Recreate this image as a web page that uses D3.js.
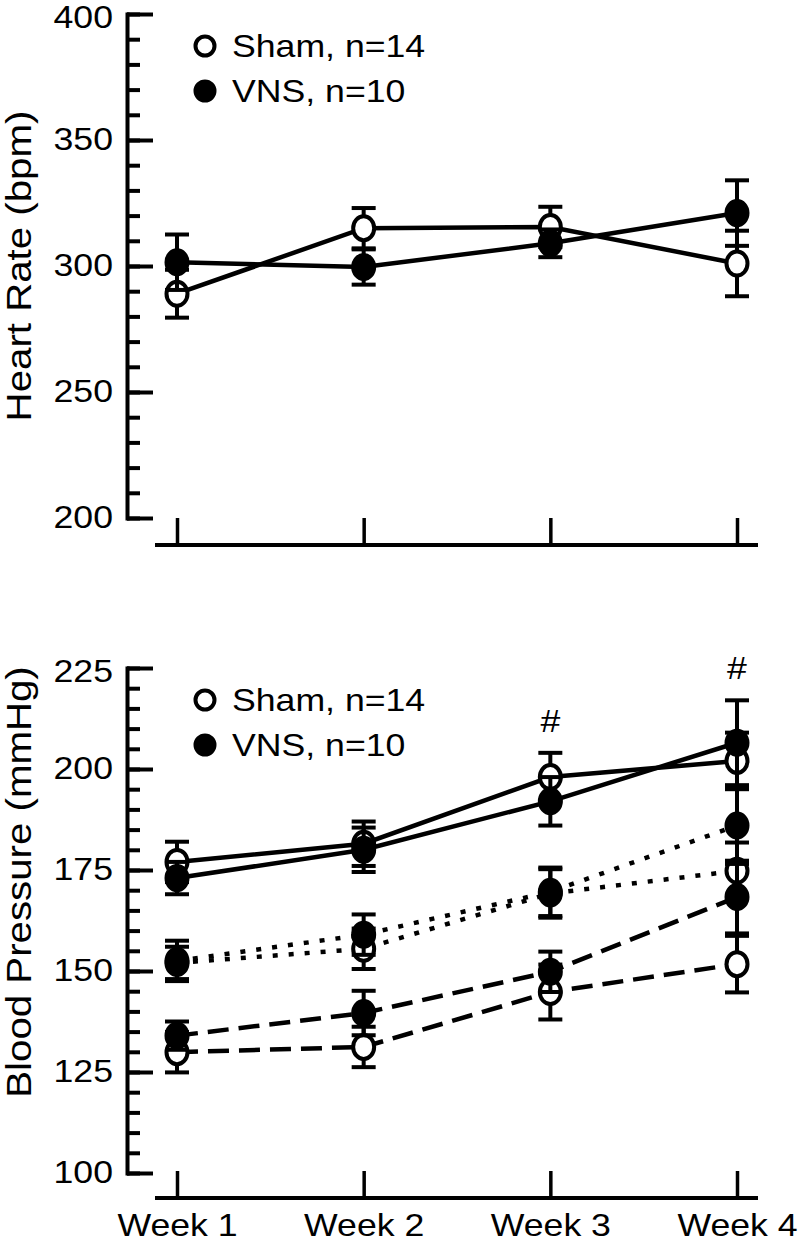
<!DOCTYPE html>
<html>
<head>
<meta charset="utf-8">
<script src="https://cdn.jsdelivr.net/npm/d3@7"></script>
<style>
  body { margin: 0; background: #fff; }
  svg { display: block; }
  text { font-family: "Liberation Sans", Arial, Helvetica, sans-serif; fill: #000; font-size: 31px; }
  .title { font-size: 35px; }
</style>
</head>
<body>
<svg id="chart" width="800" height="1243"></svg>
<script>
const weeks = ["Week 1", "Week 2", "Week 3", "Week 4"];
const groups = ["Sham, n=14", "VNS, n=10"];

// heart rate (bpm), mean and SEM
const hrSham = [289, 315, 315.5, 301];
const hrShamErr = [9.5, 8, 8, 13];
const hrVns = [301.5, 299.6, 309, 321];
const hrVnsErr = [11, 7, 5.5, 13];

// blood pressure (mmHg): systolic, mean, diastolic
const sysSham = [177, 181.5, 198, 202];
const sysShamErr = [5, 5.5, 6, 7];
const sysVns = [173, 180, 192, 206.5];
const sysVnsErr = [4, 5.5, 6, 10.5];
const mapSham = [152, 155.5, 169.2, 174.8];
const mapShamErr = [4, 5, 6, 7];
const mapVns = [152.5, 159, 169.6, 186];
const mapVnsErr = [5, 5, 6, 9.5];
const diaSham = [129.9, 131.2, 144.8, 151.7];
const diaShamErr = [5, 5, 6.8, 7];
const diaVns = [134, 139.6, 149.8, 168.3];
const diaVnsErr = [3.5, 5.5, 5, 9];

const sigWeeks = ["Week 3", "Week 4"];

const K = 1.15; // glyphs in the figure are wider than Helvetica
const axisX = 127;

const svg = d3.select("#chart");
const x = d3.scalePoint().domain(weeks).range([177, 737]);

function widen(sel) {
  sel.each(function() {
    const t = d3.select(this);
    const tx = +t.attr("x") || 0;
    const prev = t.attr("transform") || "";
    t.attr("transform", `${prev} translate(${tx},0) scale(${K},1) translate(${-tx},0)`);
  });
}

function panel(cfg) {
  const g = svg.append("g");
  const y = d3.scaleLinear().domain(cfg.domain).range([cfg.bottom, cfg.top]);
  const [d0, d1] = cfg.domain;

  // minor ticks
  g.append("g")
    .attr("transform", `translate(${axisX},0)`)
    .call(d3.axisLeft(y).tickValues(d3.range(d0, d1 + 1e-9, cfg.minor)).tickSize(-13).tickFormat(""))
    .call(s => s.select(".domain").remove())
    .selectAll("line").attr("stroke-width", 4);

  // major ticks + labels
  const ya = g.append("g")
    .attr("transform", `translate(${axisX},0)`)
    .attr("font-size", null).attr("font-family", null)
    .call(d3.axisLeft(y).tickValues(d3.range(d0, d1 + 1e-9, cfg.major)).tickSizeInner(-26).tickSizeOuter(0).tickPadding(14));
  ya.selectAll("line").attr("stroke-width", 4);
  ya.select(".domain").attr("stroke-width", 4).attr("stroke-linecap", "square");
  ya.selectAll("text").filter(d => d === d1).attr("dy", "0.42em");
  widen(ya.selectAll("text"));

  // x axis
  const xa = g.append("g")
    .attr("transform", `translate(0,${cfg.xAxisY})`)
    .attr("font-size", null).attr("font-family", null)
    .call(d3.axisBottom(x).tickSizeInner(-27).tickSizeOuter(0).tickPadding(16)
      .tickFormat(cfg.labels ? d => d : ""));
  xa.select(".domain").remove();
  xa.selectAll("line").attr("stroke-width", 3.5);
  xa.append("line")
    .attr("x1", x(weeks[0]) - 22).attr("x2", x(weeks[weeks.length - 1]) + 21)
    .attr("stroke", "#000").attr("stroke-width", 4);
  widen(xa.selectAll("text"));

  // axis title
  g.append("text")
    .attr("class", "title")
    .attr("transform", "rotate(-90)")
    .attr("x", -cfg.titleY).attr("y", 31)
    .attr("text-anchor", "middle")
    .text(cfg.title)
    .call(widen);

  // series
  const line = d3.line().x((d, i) => x(weeks[i])).y(d => y(d));
  cfg.series.forEach(s => {
    const sg = g.append("g");
    sg.append("path")
      .attr("d", line(s.values))
      .attr("fill", "none").attr("stroke", "#000").attr("stroke-width", 4.5)
      .attr("stroke-dasharray", s.dash);
    const pts = s.values.map((v, i) => ({ w: weeks[i], v, e: s.errs[i] }));
    const eb = sg.selectAll(".eb").data(pts).join("g").attr("class", "eb")
      .attr("stroke", "#000").attr("stroke-width", 4);
    eb.append("line")
      .attr("x1", d => x(d.w)).attr("x2", d => x(d.w))
      .attr("y1", d => y(d.v - d.e)).attr("y2", d => y(d.v + d.e));
    eb.append("line")
      .attr("x1", d => x(d.w) - 12).attr("x2", d => x(d.w) + 12)
      .attr("y1", d => y(d.v + d.e)).attr("y2", d => y(d.v + d.e));
    eb.append("line")
      .attr("x1", d => x(d.w) - 12).attr("x2", d => x(d.w) + 12)
      .attr("y1", d => y(d.v - d.e)).attr("y2", d => y(d.v - d.e));
    sg.selectAll("ellipse").data(pts).join("ellipse")
      .attr("cx", d => x(d.w)).attr("cy", d => y(d.v))
      .attr("rx", 10.5).attr("ry", 12)
      .attr("fill", s.filled ? "#000" : "#fff")
      .attr("stroke", "#000").attr("stroke-width", 4);
  });

  // legend
  const lg = g.append("g").attr("transform", `translate(205,${cfg.top + 43})`);
  groups.forEach((name, i) => {
    lg.append("circle")
      .attr("cx", 0).attr("cy", i * 45 - 11)
      .attr("r", 9.5)
      .attr("fill", i === 0 ? "#fff" : "#000")
      .attr("stroke", "#000").attr("stroke-width", 4);
    lg.append("text")
      .attr("x", 27).attr("y", i * 45)
      .text(name)
      .call(widen);
  });

  // significance marks
  (cfg.marks || []).forEach(w => {
    const i = weeks.indexOf(w);
    const top = d3.max(cfg.series, s => s.values[i] + s.errs[i]);
    g.append("text")
      .attr("x", x(w)).attr("y", y(top) - 21)
      .attr("text-anchor", "middle")
      .text("#")
      .call(widen);
  });
}

panel({
  domain: [200, 400], bottom: 518, top: 14, major: 50, minor: 10,
  xAxisY: 545, labels: false,
  title: "Heart Rate (bpm)", titleY: 266,
  series: [
    { values: hrSham, errs: hrShamErr, filled: false, dash: null },
    { values: hrVns, errs: hrVnsErr, filled: true, dash: null }
  ]
});

panel({
  domain: [100, 225], bottom: 1173, top: 668, major: 25, minor: 5,
  xAxisY: 1198, labels: true,
  title: "Blood Pressure (mmHg)", titleY: 882,
  marks: sigWeeks,
  series: [
    { values: sysSham, errs: sysShamErr, filled: false, dash: null },
    { values: sysVns, errs: sysVnsErr, filled: true, dash: null },
    { values: mapSham, errs: mapShamErr, filled: false, dash: "5,11" },
    { values: mapVns, errs: mapVnsErr, filled: true, dash: "5,11" },
    { values: diaSham, errs: diaShamErr, filled: false, dash: "21,10" },
    { values: diaVns, errs: diaVnsErr, filled: true, dash: "21,10" }
  ]
});
</script>
</body>
</html>
